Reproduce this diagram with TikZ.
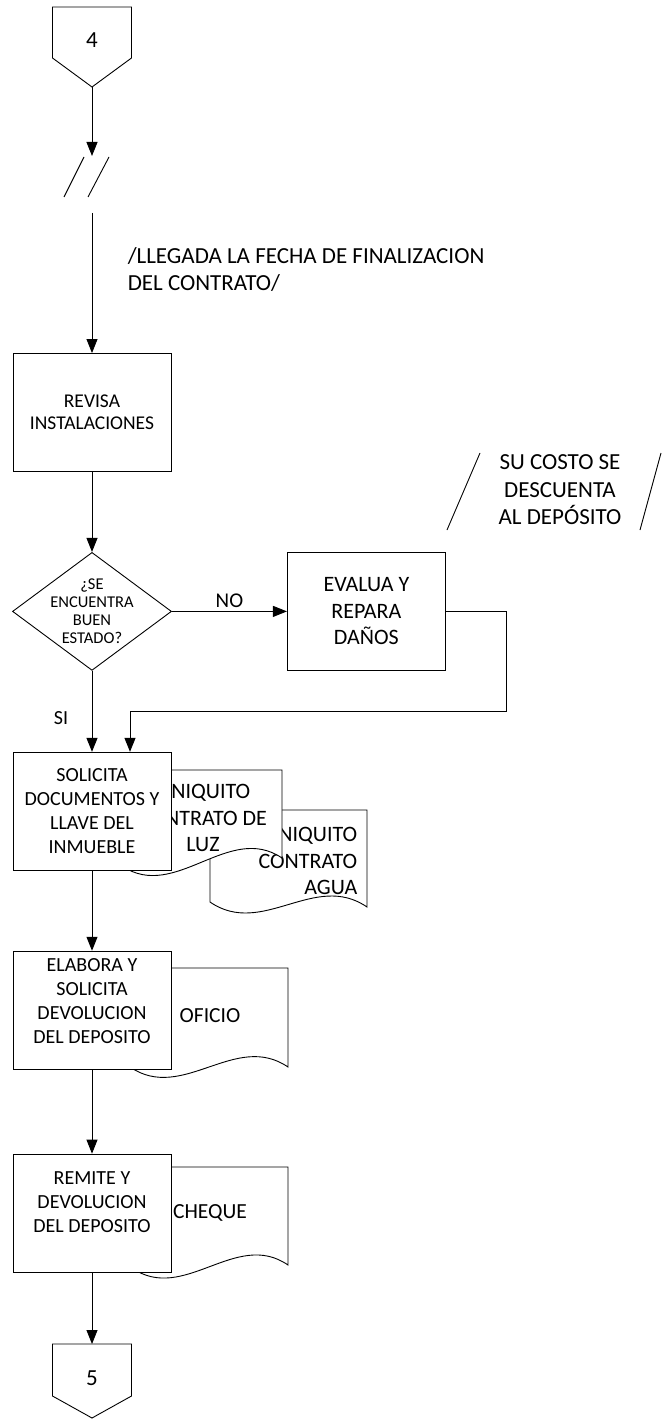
\documentclass[tikz,border=0pt]{standalone}
\usepackage{fontspec}
\setmainfont{Carlito}
\usetikzlibrary{arrows.meta,positioning,shapes.geometric}

% document symbol: left, top, right, bottom-left, bottom-right
\newcommand{\docshape}[5]{%
  \filldraw[fill=white] (#1,#2) -- (#3,#2) -- (#3,#5)
    .. controls ({#3-(#3-#1)/3},{#5-36}) and ({#1+(#3-#1)/3},{#4+36}) .. (#1,#4) -- cycle;}

\begin{document}
\begin{tikzpicture}[x=1pt,y=-1pt,line width=0.9pt,
    proc/.style={draw, fill=white, minimum width=158pt, minimum height=118pt,
      align=center, inner sep=0pt, font=\fontsize{20}{24}\selectfont},
    decision/.style={diamond, draw, fill=white, minimum width=159pt,
      minimum height=118pt, inner sep=0pt},
    doctext/.style={align=center, font=\fontsize{22}{26.5}\selectfont},
    note/.style={align=center, font=\fontsize{23}{27.5}\selectfont},
    flow/.style={-{Triangle[length=14pt,width=11pt]}}]
  \useasboundingbox (0,0) rectangle (662,1420);

  % off-page connector 4
  \draw (52.5,7) -- (131.5,7) -- (131.5,58) -- (92,87) -- (52.5,58) -- cycle;
  \node[font=\fontsize{23}{26}\selectfont] (c4) at (92,40) {4};
  \coordinate (c4tip) at (92,87);
  \coordinate (brkA) at (92,156);
  \coordinate (brkB) at (92,213);
  \draw[flow] (c4tip) -- (brkA);
  \draw (84,157) -- (64,197) (109,157) -- (88,197);

  \node[note, anchor=west, align=left] (fecha) at (124,269.5)
    {/LLEGADA LA FECHA DE FINALIZACION\\DEL CONTRATO/};

  % documents (behind the boxes)
  \docshape{210}{810}{367}{902}{907}
  \node[doctext, align=right, anchor=east] (agua) at (361,861)
    {FINIQUITO\\CONTRATO\\AGUA};
  \docshape{122}{770}{282}{866}{858}
  \node[doctext] (luz) at (203,818) {FINIQUITO\\CONTRATO DE\\LUZ};
  \docshape{130}{968}{288}{1067}{1067}
  \node[doctext, font=\fontsize{21.5}{26}\selectfont] (oficio) at (210,1016) {OFICIO};
  \docshape{132}{1167}{288}{1268}{1265}
  \node[doctext, font=\fontsize{21.5}{26}\selectfont] (cheque) at (210,1213) {CHEQUE};

  % process boxes
  \node[proc, font=\fontsize{19.5}{22}\selectfont] (revisa) at (92,412.5)
    {REVISA\\INSTALACIONES};
  \node[decision, below=80pt of revisa,
    label={[align=center, font=\fontsize{16.5}{18}\selectfont]center:{¿SE\\ENCUENTRA\\BUEN\\ESTADO?}}]
    (buen) {};
  \node[proc, right=115pt of buen, font=\fontsize{22}{26.5}\selectfont] (evalua)
    {EVALUA Y\\REPARA\\DAÑOS};
  \node[proc, below=81pt of buen] (solicita)
    {SOLICITA\\DOCUMENTOS Y\\LLAVE DEL\\INMUEBLE};
  \node[proc, below=80pt of solicita] (elabora)
    {ELABORA Y\\SOLICITA\\DEVOLUCION\\DEL DEPOSITO\\[-6pt]~};
  \node[proc, below=84pt of elabora] (remite)
    {REMITE Y\\DEVOLUCION\\DEL DEPOSITO\\[-2pt]~};

  % off-page connector 5
  \draw (52.5,1344) -- (131.5,1344) -- (131.5,1396) -- (92,1418) -- (52.5,1396) -- cycle;
  \node[font=\fontsize{23}{26}\selectfont] (c5) at (92,1378) {5};
  \coordinate (c5top) at (92,1344);

  % annotation
  \node[note] (costo) at (560,490) {SU COSTO SE\\DESCUENTA\\AL DEPÓSITO};
  \draw (480,453) -- (447,530) (661,453) -- (640,530);

  % connectors
  \coordinate (ret) at (506,711);
  \draw[flow] (brkB) -- (revisa);
  \draw[flow] (revisa) -- (buen);
  \draw[flow] (buen) -- node[above, font=\fontsize{21}{25}\selectfont] {NO} (evalua);
  \draw[flow] (buen) -- node[left=20pt, pos=0.58, font=\fontsize{20}{24}\selectfont] {SI} (solicita);
  \draw[flow] (evalua.east) -| (ret) -| ([xshift=38pt]solicita.north);
  \draw[flow] (solicita) -- (elabora);
  \draw[flow] (elabora) -- (remite);
  \draw[flow] (remite) -- (c5top);
\end{tikzpicture}
\end{document}
